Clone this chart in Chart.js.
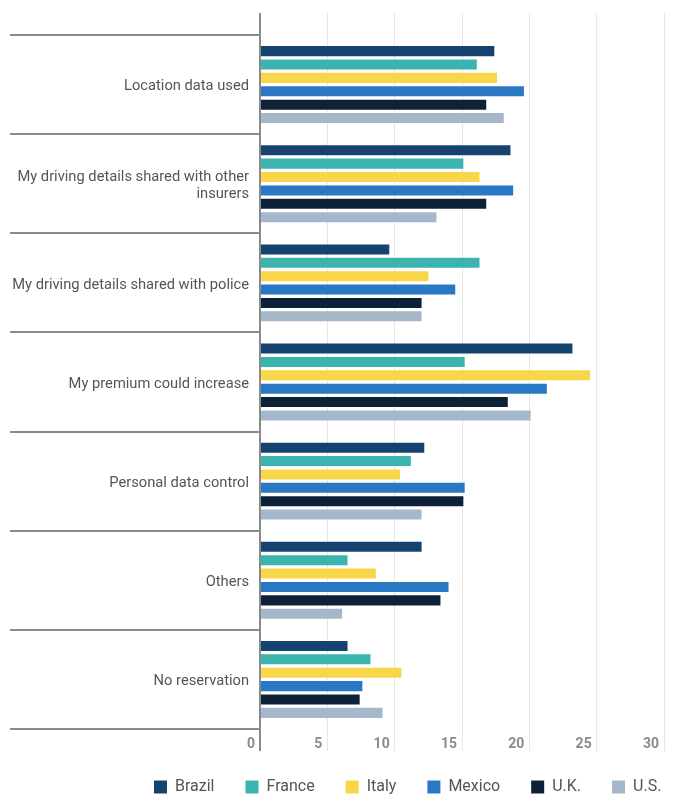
<!DOCTYPE html>
<html>
<head>
<meta charset="utf-8">
<script src="https://cdn.jsdelivr.net/npm/chart.js@4/dist/chart.umd.min.js"></script>
<style>
  html, body { margin: 0; padding: 0; background: #ffffff; }
  #wrap { width: 675px; height: 795px; position: relative; }
</style>
</head>
<body>
<div id="wrap"><canvas id="chart"></canvas></div>
<script>
// Reasons for reservation about sharing telematics data, by country (%)
const categories = [
  'Location data used',
  ['My driving details shared with other', 'insurers'],
  'My driving details shared with police',
  'My premium could increase',
  'Personal data control',
  'Others',
  'No reservation'
];
const countries = ['Brazil', 'France', 'Italy', 'Mexico', 'U.K.', 'U.S.'];

const brazil = [17.4, 18.6, 9.6, 23.2, 12.2, 12.0, 6.5];
const france = [16.1, 15.1, 16.3, 15.2, 11.2, 6.5, 8.2];
const italy  = [17.6, 16.3, 12.5, 24.5, 10.4, 8.6, 10.5];
const mexico = [19.6, 18.8, 14.5, 21.3, 15.2, 14.0, 7.6];
const uk     = [16.8, 16.8, 12.0, 18.4, 15.1, 13.4, 7.4];
const us     = [18.1, 13.1, 12.0, 20.1, 12.0, 6.1, 9.1];

const xTicks = [0, 5, 10, 15, 20, 25, 30];

const seriesValues = [brazil, france, italy, mexico, uk, us];
const seriesColors = ['#16426f', '#3bb3af', '#f7d64a', '#2a78c3', '#0e2237', '#a4b7cb'];

const FONT = 'Roboto, "Noto Sans", Arial, sans-serif';
const AXIS_DARK = '#8a8a8a';
const GRID_LIGHT = '#e6e6e6';
const LEGEND_INSET = 113; // legend row starts further right than the label column

const gridColor = ctx => (ctx.tick && ctx.tick.value === 0) ? AXIS_DARK : GRID_LIGHT;
const gridWidth = ctx => (ctx.tick && ctx.tick.value === 0) ? 2 : 1;

// Shift the legend box to the right after the layout has been computed
const legendInset = {
  id: 'legendInset',
  afterLayout(chart) {
    const lg = chart.legend;
    if (lg) {
      lg.left += LEGEND_INSET;
      lg.right += LEGEND_INSET;
    }
  }
};

new Chart(document.getElementById('chart'), {
  type: 'bar',
  data: {
    labels: categories,
    datasets: countries.map((name, i) => ({
      label: name,
      data: seriesValues[i],
      backgroundColor: seriesColors[i],
      borderWidth: 0,
      categoryPercentage: 0.81,
      barPercentage: 0.75
    }))
  },
  plugins: [legendInset],
  options: {
    indexAxis: 'y',
    responsive: true,
    maintainAspectRatio: false,
    animation: false,
    layout: { padding: { top: 13, right: 11, bottom: -10, left: 10 } },
    scales: {
      x: {
        position: 'bottom',
        min: 0,
        max: 30,
        afterBuildTicks: s => { s.ticks = xTicks.map(v => ({ value: v })); },
        afterFit: s => { s.height = 19; },
        border: { display: false },
        grid: {
          color: gridColor,
          lineWidth: gridWidth,
          drawTicks: true,
          tickLength: 22,
          tickColor: gridColor,
          tickWidth: gridWidth
        },
        ticks: {
          align: 'end',
          labelOffset: -5,
          padding: -15,
          color: '#8a8a8a',
          font: { family: FONT, size: 14, weight: 'bold' }
        }
      },
      xTop: {
        axis: 'x',
        position: 'top',
        min: 0,
        max: 30,
        afterBuildTicks: s => { s.ticks = xTicks.map(v => ({ value: v })); },
        border: { display: false },
        grid: {
          drawOnChartArea: false,
          drawTicks: true,
          tickLength: 22,
          color: gridColor,
          lineWidth: gridWidth,
          tickColor: gridColor,
          tickWidth: gridWidth
        },
        ticks: { display: false }
      },
      y: {
        position: 'left',
        afterFit: s => { s.width = 250; },
        border: { display: false },
        grid: {
          offset: true,
          drawOnChartArea: false,
          drawTicks: true,
          tickLength: 250,
          color: AXIS_DARK,
          tickColor: AXIS_DARK,
          lineWidth: 2,
          tickWidth: 2
        },
        ticks: {
          padding: -239,
          labelOffset: 2,
          color: '#555555',
          font: { family: FONT, size: 14.7, lineHeight: 1.13 }
        }
      }
    },
    plugins: {
      legend: {
        position: 'bottom',
        align: 'start',
        labels: {
          boxWidth: 13,
          boxHeight: 13,
          padding: 31,
          color: '#555555',
          font: { family: FONT, size: 16 }
        }
      },
      tooltip: { enabled: false }
    }
  }
});
</script>
</body>
</html>
